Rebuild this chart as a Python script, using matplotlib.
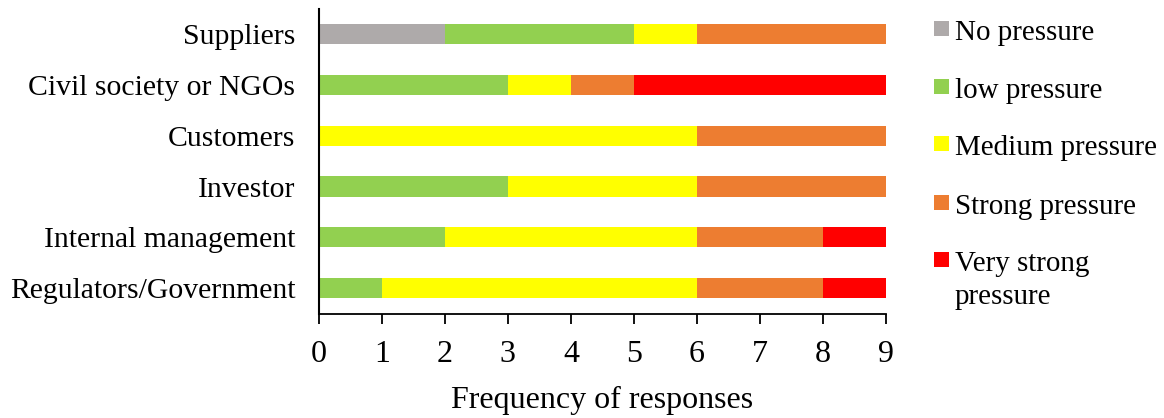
import matplotlib.pyplot as plt
from matplotlib.patches import Rectangle
import numpy as np

plt.rcParams['font.family'] = ['Liberation Serif', 'DejaVu Serif']

# stakeholder groups, top to bottom
groups = ["Suppliers", "Civil society or NGOs", "Customers", "Investor",
          "Internal management", "Regulators/Government"]

levels = ["No pressure", "low pressure", "Medium pressure",
          "Strong pressure", "Very strong\npressure"]
colors = ["#AEAAAA", "#92D050", "#FFFF00", "#ED7D31", "#FF0000"]

# number of responses per pressure level, one list per level (same order as groups)
no_pressure = [2, 0, 0, 0, 0, 0]
low_pressure = [3, 3, 0, 3, 2, 1]
medium_pressure = [1, 1, 6, 3, 4, 5]
strong_pressure = [3, 1, 3, 3, 2, 2]
very_strong = [0, 4, 0, 0, 1, 1]

series = [no_pressure, low_pressure, medium_pressure, strong_pressure, very_strong]

W, H = 1164, 418
fig = plt.figure(figsize=(W / 100, H / 100), dpi=100)
ax = fig.add_axes([0.274, 0.250, 0.487, 0.729])

y = np.arange(len(groups))
left = np.zeros(len(groups))
for vals, col, lab in zip(series, colors, levels):
    vals = np.array(vals, dtype=float)
    ax.barh(y, vals, left=left, height=0.4, color=col, label=lab, linewidth=0)
    left += vals

ax.set_ylim(len(groups) - 0.5, -0.5)
ax.set_xlim(0, 9)
ax.set_xticks(range(10))
ax.set_yticks(y)
ax.set_yticklabels(groups, fontsize=21.4)
ax.tick_params(axis='y', length=0, pad=17)
ax.tick_params(axis='x', direction='out', length=7, width=1.3, labelsize=23, pad=12)
ax.set_xlabel("Frequency of responses", fontsize=23, labelpad=12)

for s in ["top", "right"]:
    ax.spines[s].set_visible(False)
ax.spines["left"].set_linewidth(1.5)
ax.spines["bottom"].set_linewidth(1.3)

# legend drawn by hand so the colour square sits on the first text line
leg_x = 934
sq_tops = [21, 79, 136, 195, 252]
sq = 15
line_gap = 33
for lab, col, top in zip(levels, colors, sq_tops):
    fig.patches.append(Rectangle((leg_x / W, 1 - (top + sq) / H), sq / W, sq / H,
                                 transform=fig.transFigure, facecolor=col, edgecolor='none'))
    for i, line in enumerate(lab.split("\n")):
        base = top + 19 + i * line_gap
        fig.text((leg_x + 21) / W, 1 - base / H, line, fontsize=20.9,
                 va='baseline', ha='left')

fig.savefig("out.png", dpi=100)
